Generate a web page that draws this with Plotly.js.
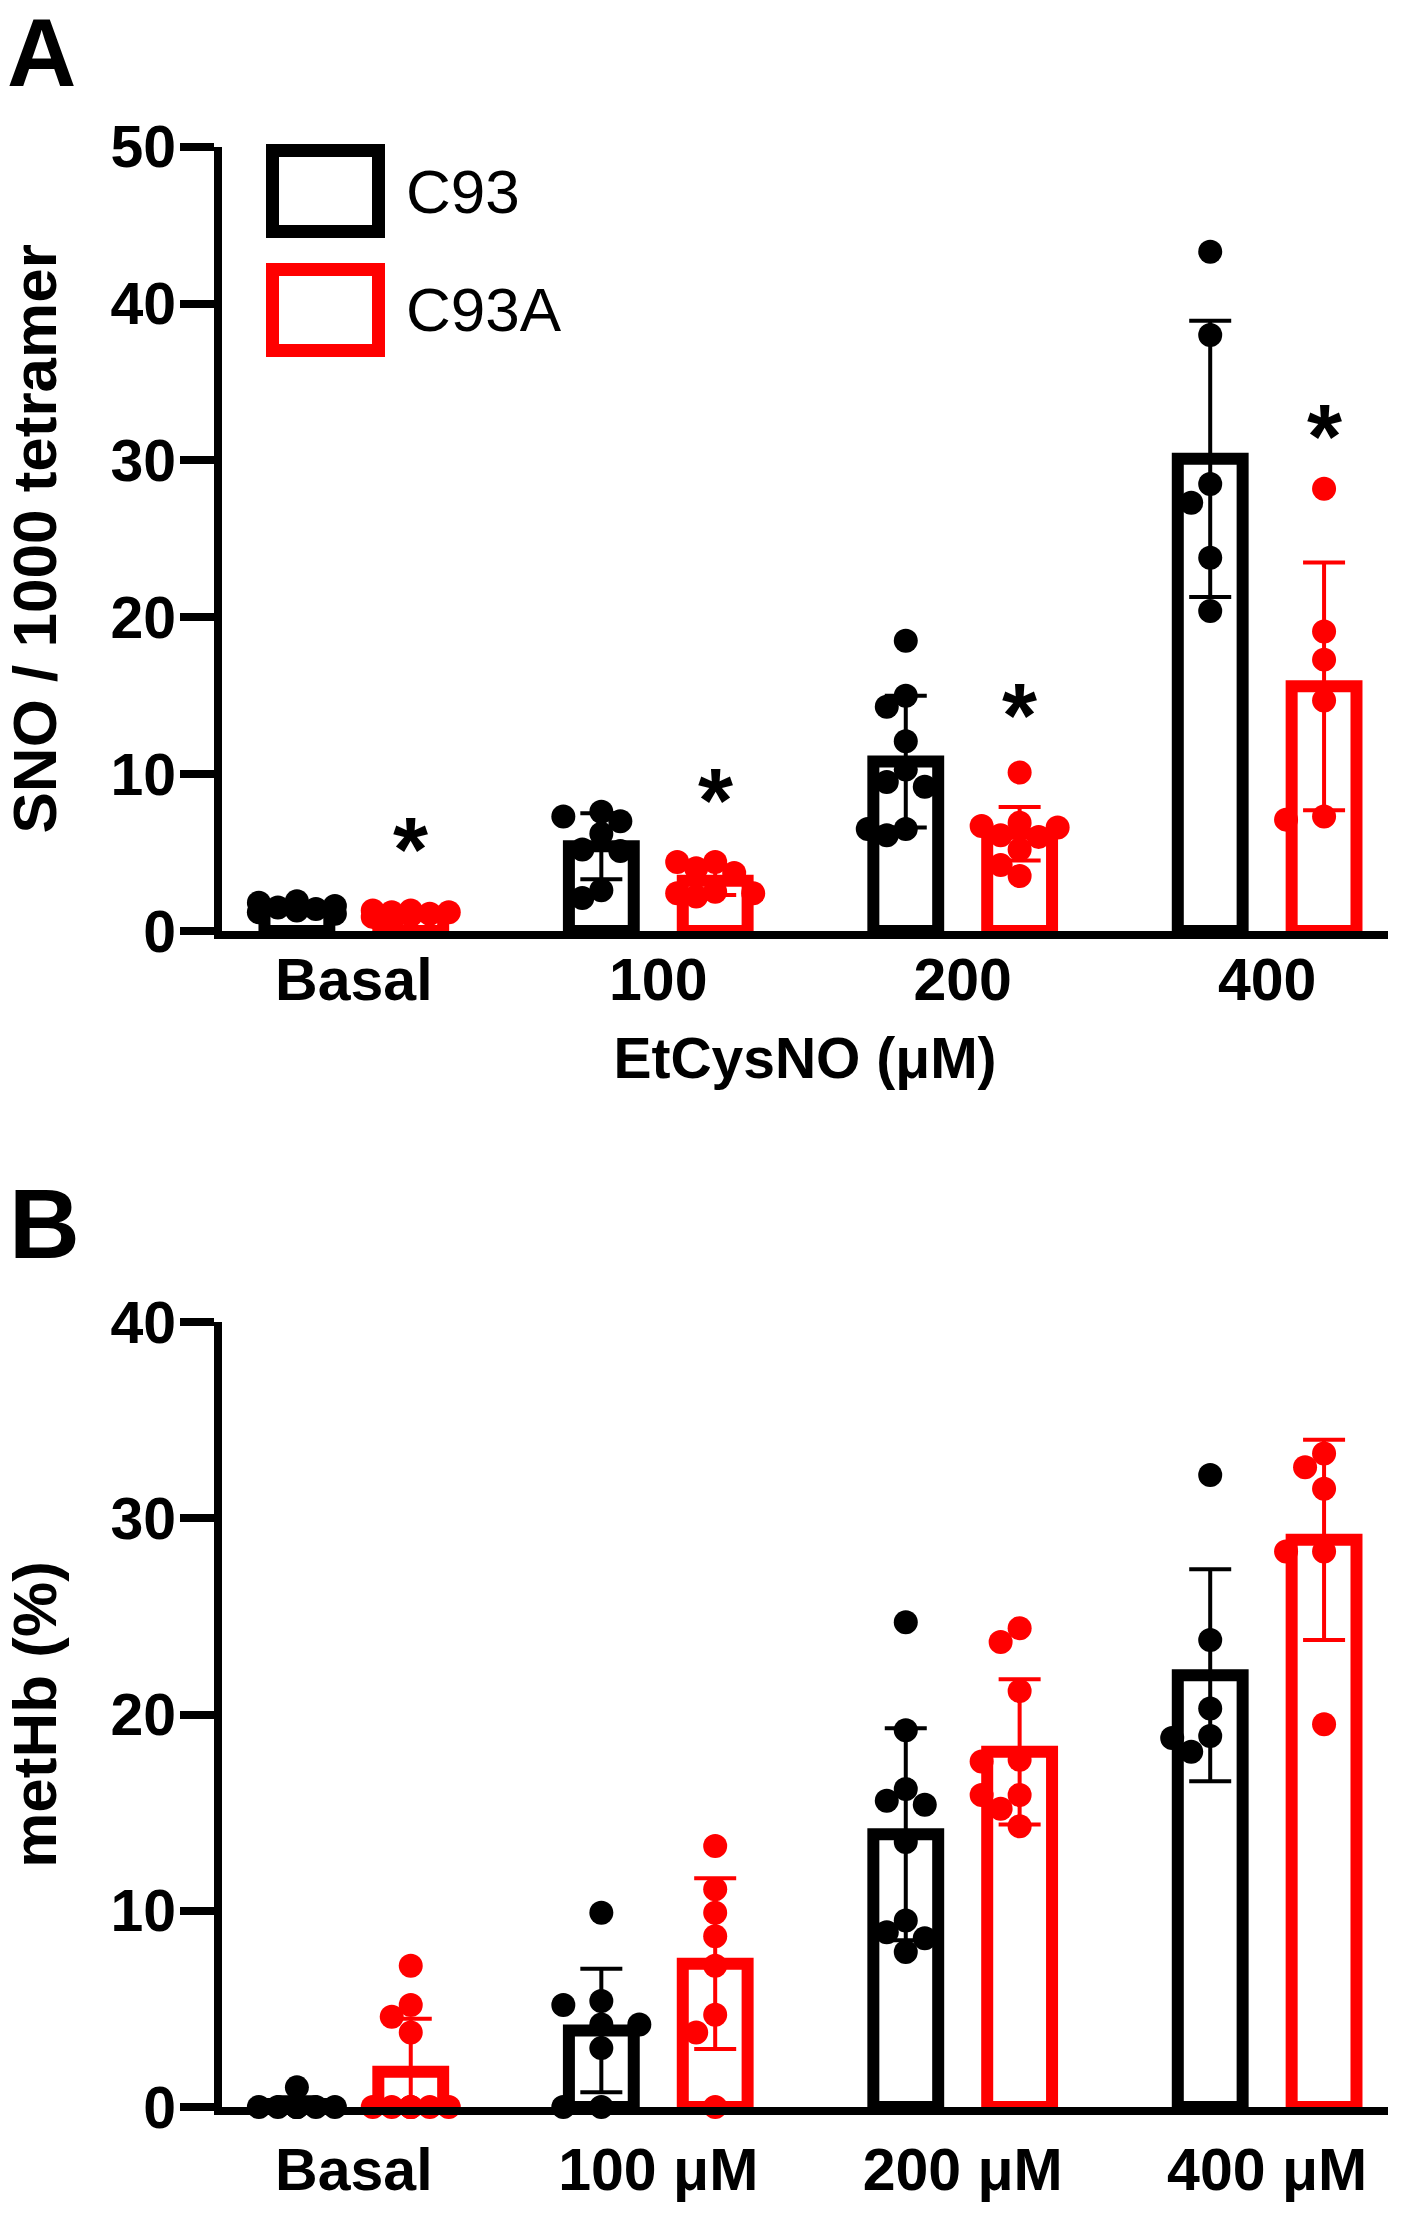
<!DOCTYPE html>
<html>
<head>
<meta charset="utf-8">
<script src="https://cdn.plot.ly/plotly-3.0.1.min.js"></script>
<style>
  html, body { margin: 0; padding: 0; background: #fff; }
  #chart { width: 1404px; height: 2218px; }
</style>
</head>
<body>
<div id="chart"></div>
<script>
// ---- data ----
var catsA = ['Basal', '100', '200', '400'];
var catsB = ['Basal', '100 μM', '200 μM', '400 μM'];

// panel A: SNO / 1000 tetramer
var snoC93Mean = [1.5, 5.4, 10.8, 30.1];
var snoC93Sd = [0.3, 2.1, 4.2, 8.8];
var snoC93AMean = [1.0, 3.2, 6.2, 15.6];
var snoC93ASd = [0.3, 0.9, 1.7, 7.9];
var snoC93Pts = [
    [1.9, 1.8, 1.6, 1.5, 1.4, 1.3, 1.2, 1.1],
    [7.0, 7.6, 7.3, 6.2, 5.2, 5.1, 2.6, 2.1],
    [18.5, 15.0, 14.3, 12.1, 10.3, 9.2, 9.5, 6.1, 6.5, 6.5],
    [43.3, 38.0, 28.5, 27.3, 23.8, 20.4]
];
var snoC93APts = [
    [1.3, 1.2, 1.0, 0.5, 1.1, 1.3, 0.9, 1.2],
    [3.7, 4.0, 4.4, 4.4, 2.4, 2.2, 2.4, 2.5],
    [10.1, 6.7, 6.9, 6.6, 6.1, 5.2, 4.2, 3.5, 6.0],
    [28.2, 19.1, 17.3, 14.7, 7.1, 7.3]
];
var snoStarY = [6.4, 9.5, 14.9, 32.7];

// panel B: metHb (%)
var metC93Mean = [0.15, 3.9, 13.9, 22.0];
var metC93Sd = [0.35, 3.15, 5.4, 5.4];
var metC93AMean = [1.8, 7.3, 18.1, 28.9];
var metC93ASd = [2.7, 4.35, 3.7, 5.1];
var metC93Pts = [
    [1.0, 0, 0, 0, 0, 0, 0, 0],
    [9.9, 5.4, 5.2, 4.2, 4.2, 3.0, 0, 0],
    [24.7, 19.2, 15.6, 15.4, 16.2, 13.5, 9.5, 7.9, 8.9, 8.6],
    [32.2, 23.8, 20.3, 18.8, 18.1, 18.9]
];
var metC93APts = [
    [7.2, 5.2, 4.6, 3.8, 0, 0, 0, 0, 0, 0, 0],
    [13.3, 11.1, 9.9, 8.7, 7.2, 4.7, 3.8, 0],
    [23.7, 24.4, 21.2, 17.6, 17.7, 15.9, 15.9, 15.2, 14.3],
    [32.6, 33.3, 31.5, 28.3, 28.3, 19.5]
];

// ---- geometry / style ----
var W = 1404, H = 2218;
var plotL = 222, plotR = 1388;
var xRange = [-0.433, 3.397];
var aTop = 146.7, aBot = 931;
var bTop = 1322, bBot = 2107;
var shift = 0.187;
var barW = 0.213;
var BLACK = '#000000', RED = '#ff0000';
var FONT = 'Liberation Sans, Arial, Helvetica, sans-serif';

function px2x(p) { return p / W; }
function px2y(p) { return 1 - p / H; }

var pxPerX = (plotR - plotL) / (xRange[1] - xRange[0]);

// simple column-scatter spreading so dots sit side by side like the original
function swarm(vals, center, pxPerY) {
    var step = 19, minD = 20;
    var placed = [];
    var xs = new Array(vals.length);
    var order = vals.map(function (v, i) { return i; })
        .sort(function (a, b) { return vals[b] - vals[a]; });
    order.forEach(function (i) {
        var yp = vals[i] * pxPerY;
        var best = 0, bestD = -1;
        var ks = [0, -1, 1, -2, 2];
        for (var j = 0; j < ks.length; j++) {
            var xp = ks[j] * step;
            var d = Infinity;
            placed.forEach(function (p) {
                d = Math.min(d, Math.hypot(p[0] - xp, p[1] - yp));
            });
            if (d >= minD) { best = xp; break; }
            if (d > bestD) { bestD = d; best = xp; }
        }
        placed.push([best, yp]);
        xs[i] = center + best / pxPerX;
    });
    return xs;
}

var traces = [];

function addPanel(means, sds, pts, color, offset, xa, ya, pxPerY) {
    var bx = [0, 1, 2, 3].map(function (i) { return i + offset; });
    traces.push({
        type: 'bar',
        x: bx,
        y: means,
        width: barW,
        xaxis: xa, yaxis: ya,
        marker: { color: 'rgba(0,0,0,0)', line: { color: color, width: 12 } },
        error_y: { type: 'data', array: sds, visible: true, color: color, thickness: 4, width: 21 },
        hoverinfo: 'skip',
        cliponaxis: false
    });
    var xs = [], ys = [];
    for (var i = 0; i < pts.length; i++) {
        var sx = swarm(pts[i], bx[i], pxPerY);
        xs = xs.concat(sx);
        ys = ys.concat(pts[i]);
    }
    traces.push({
        type: 'scatter',
        mode: 'markers',
        x: xs, y: ys,
        xaxis: xa, yaxis: ya,
        marker: { color: color, size: 24, line: { width: 0 } },
        cliponaxis: false,
        hoverinfo: 'skip'
    });
}

var pxPerYA = (aBot - aTop) / 50;
var pxPerYB = (bBot - bTop) / 40;

addPanel(snoC93Mean, snoC93Sd, snoC93Pts, BLACK, -shift, 'x', 'y', pxPerYA);
addPanel(snoC93AMean, snoC93ASd, snoC93APts, RED, shift, 'x', 'y', pxPerYA);
addPanel(metC93Mean, metC93Sd, metC93Pts, BLACK, -shift, 'x2', 'y2', pxPerYB);
addPanel(metC93AMean, metC93ASd, metC93APts, RED, shift, 'x2', 'y2', pxPerYB);

// significance stars
var annotations = [];
for (var i = 0; i < snoStarY.length; i++) {
    annotations.push({
        x: i + shift, y: snoStarY[i], xref: 'x', yref: 'y',
        text: '*', showarrow: false, yanchor: 'middle', yshift: -19,
        font: { family: FONT, size: 90, color: BLACK, weight: 'bold' }
    });
}

// panel letters
annotations.push({
    x: px2x(5), y: px2y(53), xref: 'paper', yref: 'paper', xanchor: 'left', yanchor: 'middle',
    text: 'A', showarrow: false, font: { family: FONT, size: 96, color: BLACK, weight: 'bold' }
});
annotations.push({
    x: px2x(7), y: px2y(1224), xref: 'paper', yref: 'paper', xanchor: 'left', yanchor: 'middle',
    text: 'B', showarrow: false, font: { family: FONT, size: 98, color: BLACK, weight: 'bold' }
});

// legend (big outlined boxes like the original)
var legendItems = [['C93', BLACK, 191], ['C93A', RED, 310]];
var shapes = [];
legendItems.forEach(function (it) {
    shapes.push({
        type: 'rect', xref: 'paper', yref: 'paper',
        x0: px2x(272.5), x1: px2x(378.5),
        y0: px2y(it[2] - 40.5), y1: px2y(it[2] + 40.5),
        line: { color: it[1], width: 13 }, fillcolor: 'rgba(0,0,0,0)'
    });
    annotations.push({
        x: px2x(404), y: px2y(it[2]), xref: 'paper', yref: 'paper',
        xanchor: 'left', yanchor: 'middle', text: it[0], showarrow: false,
        font: { family: FONT, size: 62, color: BLACK }
    });
});

function xAxis(labels, anchor, labelGap, titleText) {
    var ax = {
        domain: [px2x(plotL), px2x(plotR)],
        range: xRange,
        anchor: anchor,
        tickmode: 'array',
        tickvals: [0, 1, 2, 3],
        ticktext: labels,
        ticks: '', ticklen: 0,
        showline: true, linewidth: 8, linecolor: BLACK,
        showgrid: false, zeroline: false,
        tickfont: { family: FONT, size: 59, color: BLACK, weight: 'bold' },
        ticklabelstandoff: labelGap,
        fixedrange: true
    };
    if (titleText) {
        ax.title = { text: titleText, standoff: 29, font: { family: FONT, size: 57, color: BLACK, weight: 'bold' } };
    }
    return ax;
}

function yAxis(top, bot, maxV, anchor, titleText) {
    return {
        domain: [px2y(bot), px2y(top)],
        range: [0, maxV],
        anchor: anchor,
        dtick: 10,
        ticks: 'outside', ticklen: 34, tickwidth: 8, tickcolor: BLACK,
        showline: true, linewidth: 8, linecolor: BLACK,
        showgrid: false, zeroline: false,
        tickfont: { family: FONT, size: 59, color: BLACK, weight: 'bold' },
        ticklabelstandoff: -8,
        title: { text: titleText, standoff: 60, font: { family: FONT, size: 62, color: BLACK, weight: 'bold' } },
        fixedrange: true
    };
}

var layout = {
    width: W, height: H,
    margin: { l: 0, r: 0, t: 0, b: 0 },
    paper_bgcolor: '#ffffff',
    plot_bgcolor: '#ffffff',
    showlegend: false,
    barmode: 'overlay',
    font: { family: FONT, color: BLACK },
    xaxis: xAxis(catsA, 'y', -10, 'EtCysNO (μM)'),
    yaxis: yAxis(aTop, aBot, 50, 'x', 'SNO / 1000 tetramer'),
    xaxis2: xAxis(catsB, 'y2', 4, null),
    yaxis2: yAxis(bTop, bBot, 40, 'x2', 'metHb (%)'),
    annotations: annotations,
    shapes: shapes
};

Plotly.newPlot('chart', traces, layout, { displayModeBar: false, staticPlot: true });
</script>
</body>
</html>
